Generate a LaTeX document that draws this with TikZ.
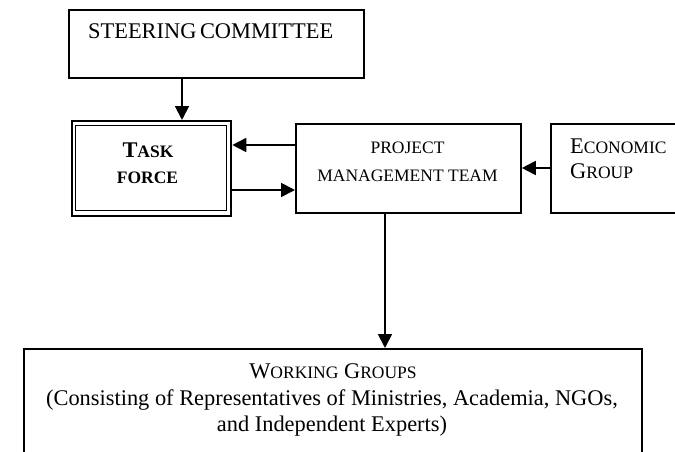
\documentclass[tikz,border=0pt]{standalone}
\usepackage{fontspec}
\setmainfont{Liberation Serif}
\usetikzlibrary{arrows.meta}
\newcommand\fullsz{\fontsize{22.4}{26.5}\selectfont}
\newcommand\smcp[1]{{\fontsize{17.5}{20}\selectfont #1}}
\tikzset{
  box/.style={draw, line width=1.8pt, rectangle, inner sep=0pt, anchor=north west},
  txt/.style={inner sep=0pt, font=\fullsz},
  conn/.style={line width=1.8pt, -{Triangle[length=14pt,width=14pt]}},
}
\begin{document}
\begin{tikzpicture}[x=1pt,y=-1pt]
\useasboundingbox (0,0) rectangle (675,452);
\begin{scope}
\clip (0,0) rectangle (675,452);
% boxes
\node[box, minimum width=295pt, minimum height=68pt] (sc) at (68,9) {};
\node[box, line width=2.3pt, minimum width=159pt, minimum height=95pt] (tf) at (71,120) {};
\node[draw, line width=1.2pt, inner sep=0pt, anchor=north west, minimum width=151pt, minimum height=85pt] (tfin) at (75,125) {};
\node[box, minimum width=225pt, minimum height=89pt] (pmt) at (295,123) {};
\node[box, minimum width=140pt, minimum height=89pt] (eg) at (550,123) {};
\node[box, minimum width=618pt, minimum height=120pt] (wg) at (23,348) {};
% texts
\node[txt, anchor=base west] (sct) at (88,39) {STEERING\hspace{-2pt} COMMITTEE};
\node[txt, anchor=base, font=\fullsz\bfseries] (tft1) at (148,157) {T\smcp{ASK}};
\node[txt, anchor=base, font=\fullsz\bfseries] (tft2) at (147.5,183) {\smcp{FORCE}};
\node[txt, anchor=base] (pmt1) at (407.5,153) {\smcp{PROJECT}};
\node[txt, anchor=base] (pmt2) at (407.5,181) {\smcp{MANAGEMENT TEAM}};
\node[txt, anchor=base west] (eg1) at (570,153) {E\smcp{CONOMIC}};
\node[txt, anchor=base west] (eg2) at (570,178) {G\smcp{ROUP}};
\node[txt, anchor=base] (wg1) at (333,378) {W\smcp{ORKING} G\smcp{ROUPS}};
\node[txt, anchor=base] (wg2) at (332,405) {(Consisting of Representatives of Ministries, Academia, NGOs,};
\node[txt, anchor=base] (wg3) at (332,431) {and Independent Experts)};
% connectors
\draw[conn] (sc.south -| 182,0) -- (tf.north -| 182,0);
\draw[conn] (pmt.west |- 0,145) -- (tf.east |- 0,145);
\draw[conn] (tf.east |- 0,190) -- (pmt.west |- 0,190);
\draw[conn] (eg.west |- 0,168) -- (pmt.east |- 0,168);
\draw[conn] (pmt.south -| 385,0) -- (wg.north -| 385,0);
\end{scope}
\end{tikzpicture}
\end{document}
